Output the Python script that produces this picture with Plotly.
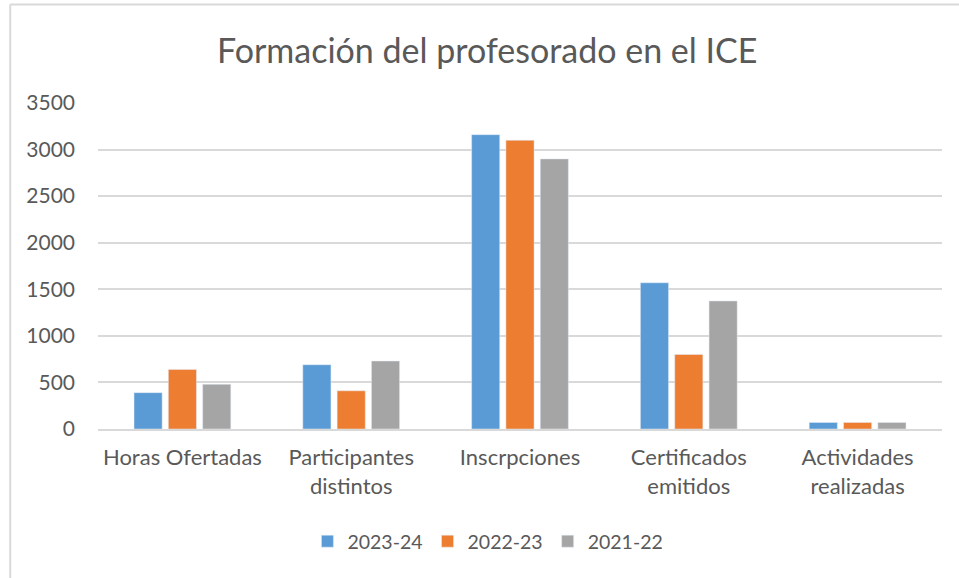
import plotly.graph_objects as go

categories = ["Horas Ofertadas", "Participantes<br>distintos", "Inscrpciones",
              "Certificados<br>emitidos", "Actividades<br>realizadas"]
series_names = ["2023-24", "2022-23", "2021-22"]
values_2023_24 = [390, 690, 3160, 1570, 70]
values_2022_23 = [640, 410, 3100, 800, 70]
values_2021_22 = [480, 730, 2900, 1375, 70]
y_ticks = [0, 500, 1000, 1500, 2000, 2500, 3000, 3500]

COLORS = ["#5B9BD5", "#ED7D31", "#A5A5A5"]
TEXT = "#595959"
GRID = "#D9D9D9"
FONT = "Lato, Open Sans, sans-serif"

fig = go.Figure()
for name, vals, color in zip(series_names, [values_2023_24, values_2022_23, values_2021_22], COLORS):
    fig.add_trace(go.Bar(x=categories, y=vals, name=name, marker=dict(color=color)))

# outer chart frame (top and left edges visible in the source)
fig.add_shape(type="line", xref="paper", yref="paper", x0=-0.104, x1=1.03, y0=1.302, y1=1.302,
              line=dict(color=GRID, width=2))
fig.add_shape(type="line", xref="paper", yref="paper", x0=-0.104, x1=-0.104, y0=1.302, y1=-0.46,
              line=dict(color=GRID, width=2))

fig.update_layout(
    width=959, height=578,
    paper_bgcolor="white", plot_bgcolor="white",
    font=dict(family=FONT, color=TEXT, size=20),
    title=dict(text="Formación del profesorado en el ICE", x=0.508, xanchor="center",
               y=0.912, yanchor="middle", font=dict(size=34, color=TEXT, family=FONT)),
    margin=dict(l=98, r=17, t=103, b=149),
    barmode="group", bargap=0.39, bargroupgap=0.18,
    showlegend=True,
    legend=dict(orientation="h", x=0.462, xanchor="center", y=-0.345, yanchor="middle",
                font=dict(size=19.5, color=TEXT), itemwidth=30, traceorder="normal"),
    xaxis=dict(showgrid=False, showline=True, linecolor=GRID, linewidth=2,
               tickfont=dict(size=22, color=TEXT), ticks="", ticklabelstandoff=8),
    yaxis=dict(range=[0, 3500], tickvals=y_ticks, showgrid=True, gridcolor=GRID, gridwidth=2,
               zeroline=False, tickfont=dict(size=21, color=TEXT), ticks="", ticklabelstandoff=22),
)

# the page adds an 8px body margin; remove it so the figure sits at the window origin
fig.write_html("out.html", config={"displayModeBar": False},
               post_script="document.body.style.margin='0';")
